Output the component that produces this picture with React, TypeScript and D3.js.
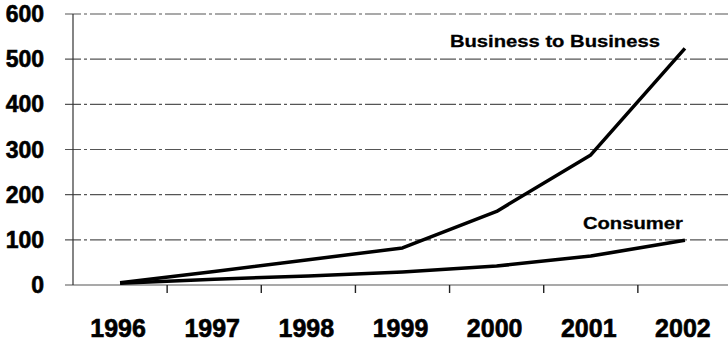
import React from "react";
import * as d3 from "d3";

const years = ["1996", "1997", "1998", "1999", "2000", "2001", "2002"];
const business = [5, 30, 56, 82, 163, 288, 524];
const consumer = [4, 13, 20, 29, 42, 64, 99];
const yTicks = [0, 100, 200, 300, 400, 500, 600];

const width = 728;
const height = 342;
const margin = {top: 14, right: -4, bottom: 57, left: 73};

export default function App()
{
    const x = d3
        .scaleBand()
        .domain(years)
        .range([margin.left, width - margin.right]);

    const y = d3
        .scaleLinear()
        .domain([0, 600])
        .range([height - margin.bottom, margin.top]);

    const line = d3
        .line<number>()
        .x((_, i) => (x(years[i]) as number) + x.bandwidth() / 2)
        .y((d) => y(d));

    const font = "'Liberation Sans', Arial, Helvetica, sans-serif";
    const lastX = (x(years[6]) as number) + x.bandwidth() / 2;

    return (
        <svg width={width} height={height} style={{position: "absolute", left: 0, top: 0}}>
            <rect width={width} height={height} fill="#fff"/>
            {/* gridlines */}
            {yTicks.map((t) => (
                <line
                    key={t}
                    x1={margin.left - 8}
                    x2={width}
                    y1={y(t)}
                    y2={y(t)}
                    stroke="#555"
                    strokeWidth={1.2}
                    strokeDasharray={t === 0 ? "none" : "16 3 3 3"}
                />
            ))}
            {/* y axis */}
            <line x1={margin.left} x2={margin.left} y1={y(600)} y2={y(0)} stroke="#333" strokeWidth={1.2}/>
            {/* x ticks between categories */}
            {years.slice(1).map((yr) => (
                <line
                    key={yr}
                    x1={x(yr) as number}
                    x2={x(yr) as number}
                    y1={y(0)}
                    y2={y(0) + 8}
                    stroke="#222"
                    strokeWidth={1.4}
                />
            ))}
            {yTicks.map((t) => (
                <text
                    key={t}
                    x={44}
                    y={y(t) + 8}
                    textAnchor="end"
                    fontFamily={font}
                    fontWeight="bold"
                    fontSize={23}
                    fill="#000"
                    stroke="#000"
                    strokeWidth={0.6}
                >
                    {t}
                </text>
            ))}
            {years.map((yr) => (
                <text
                    key={yr}
                    x={(x(yr) as number) + x.bandwidth() / 2 - 2}
                    y={337}
                    textAnchor="middle"
                    fontFamily={font}
                    fontWeight="bold"
                    fontSize={25}
                    fill="#000"
                    stroke="#000"
                    strokeWidth={0.6}
                >
                    {yr}
                </text>
            ))}
            <path d={line(business) as string} fill="none" stroke="#000" strokeWidth={3.5} strokeLinejoin="round"/>
            <path d={line(consumer) as string} fill="none" stroke="#000" strokeWidth={3.5} strokeLinejoin="round"/>
            <text
                x={lastX - 235}
                y={y(business[6]) - 1}
                fontFamily={font}
                fontWeight="bold"
                fontSize={17}
                textLength={210}
                lengthAdjust="spacingAndGlyphs"
                fill="#000"
                stroke="#000"
                strokeWidth={0.3}
            >
                Business to Business
            </text>
            <text
                x={lastX - 102}
                y={y(consumer[6]) - 11}
                fontFamily={font}
                fontWeight="bold"
                fontSize={17}
                textLength={100}
                lengthAdjust="spacingAndGlyphs"
                fill="#000"
                stroke="#000"
                strokeWidth={0.3}
            >
                Consumer
            </text>
        </svg>
    );
}
